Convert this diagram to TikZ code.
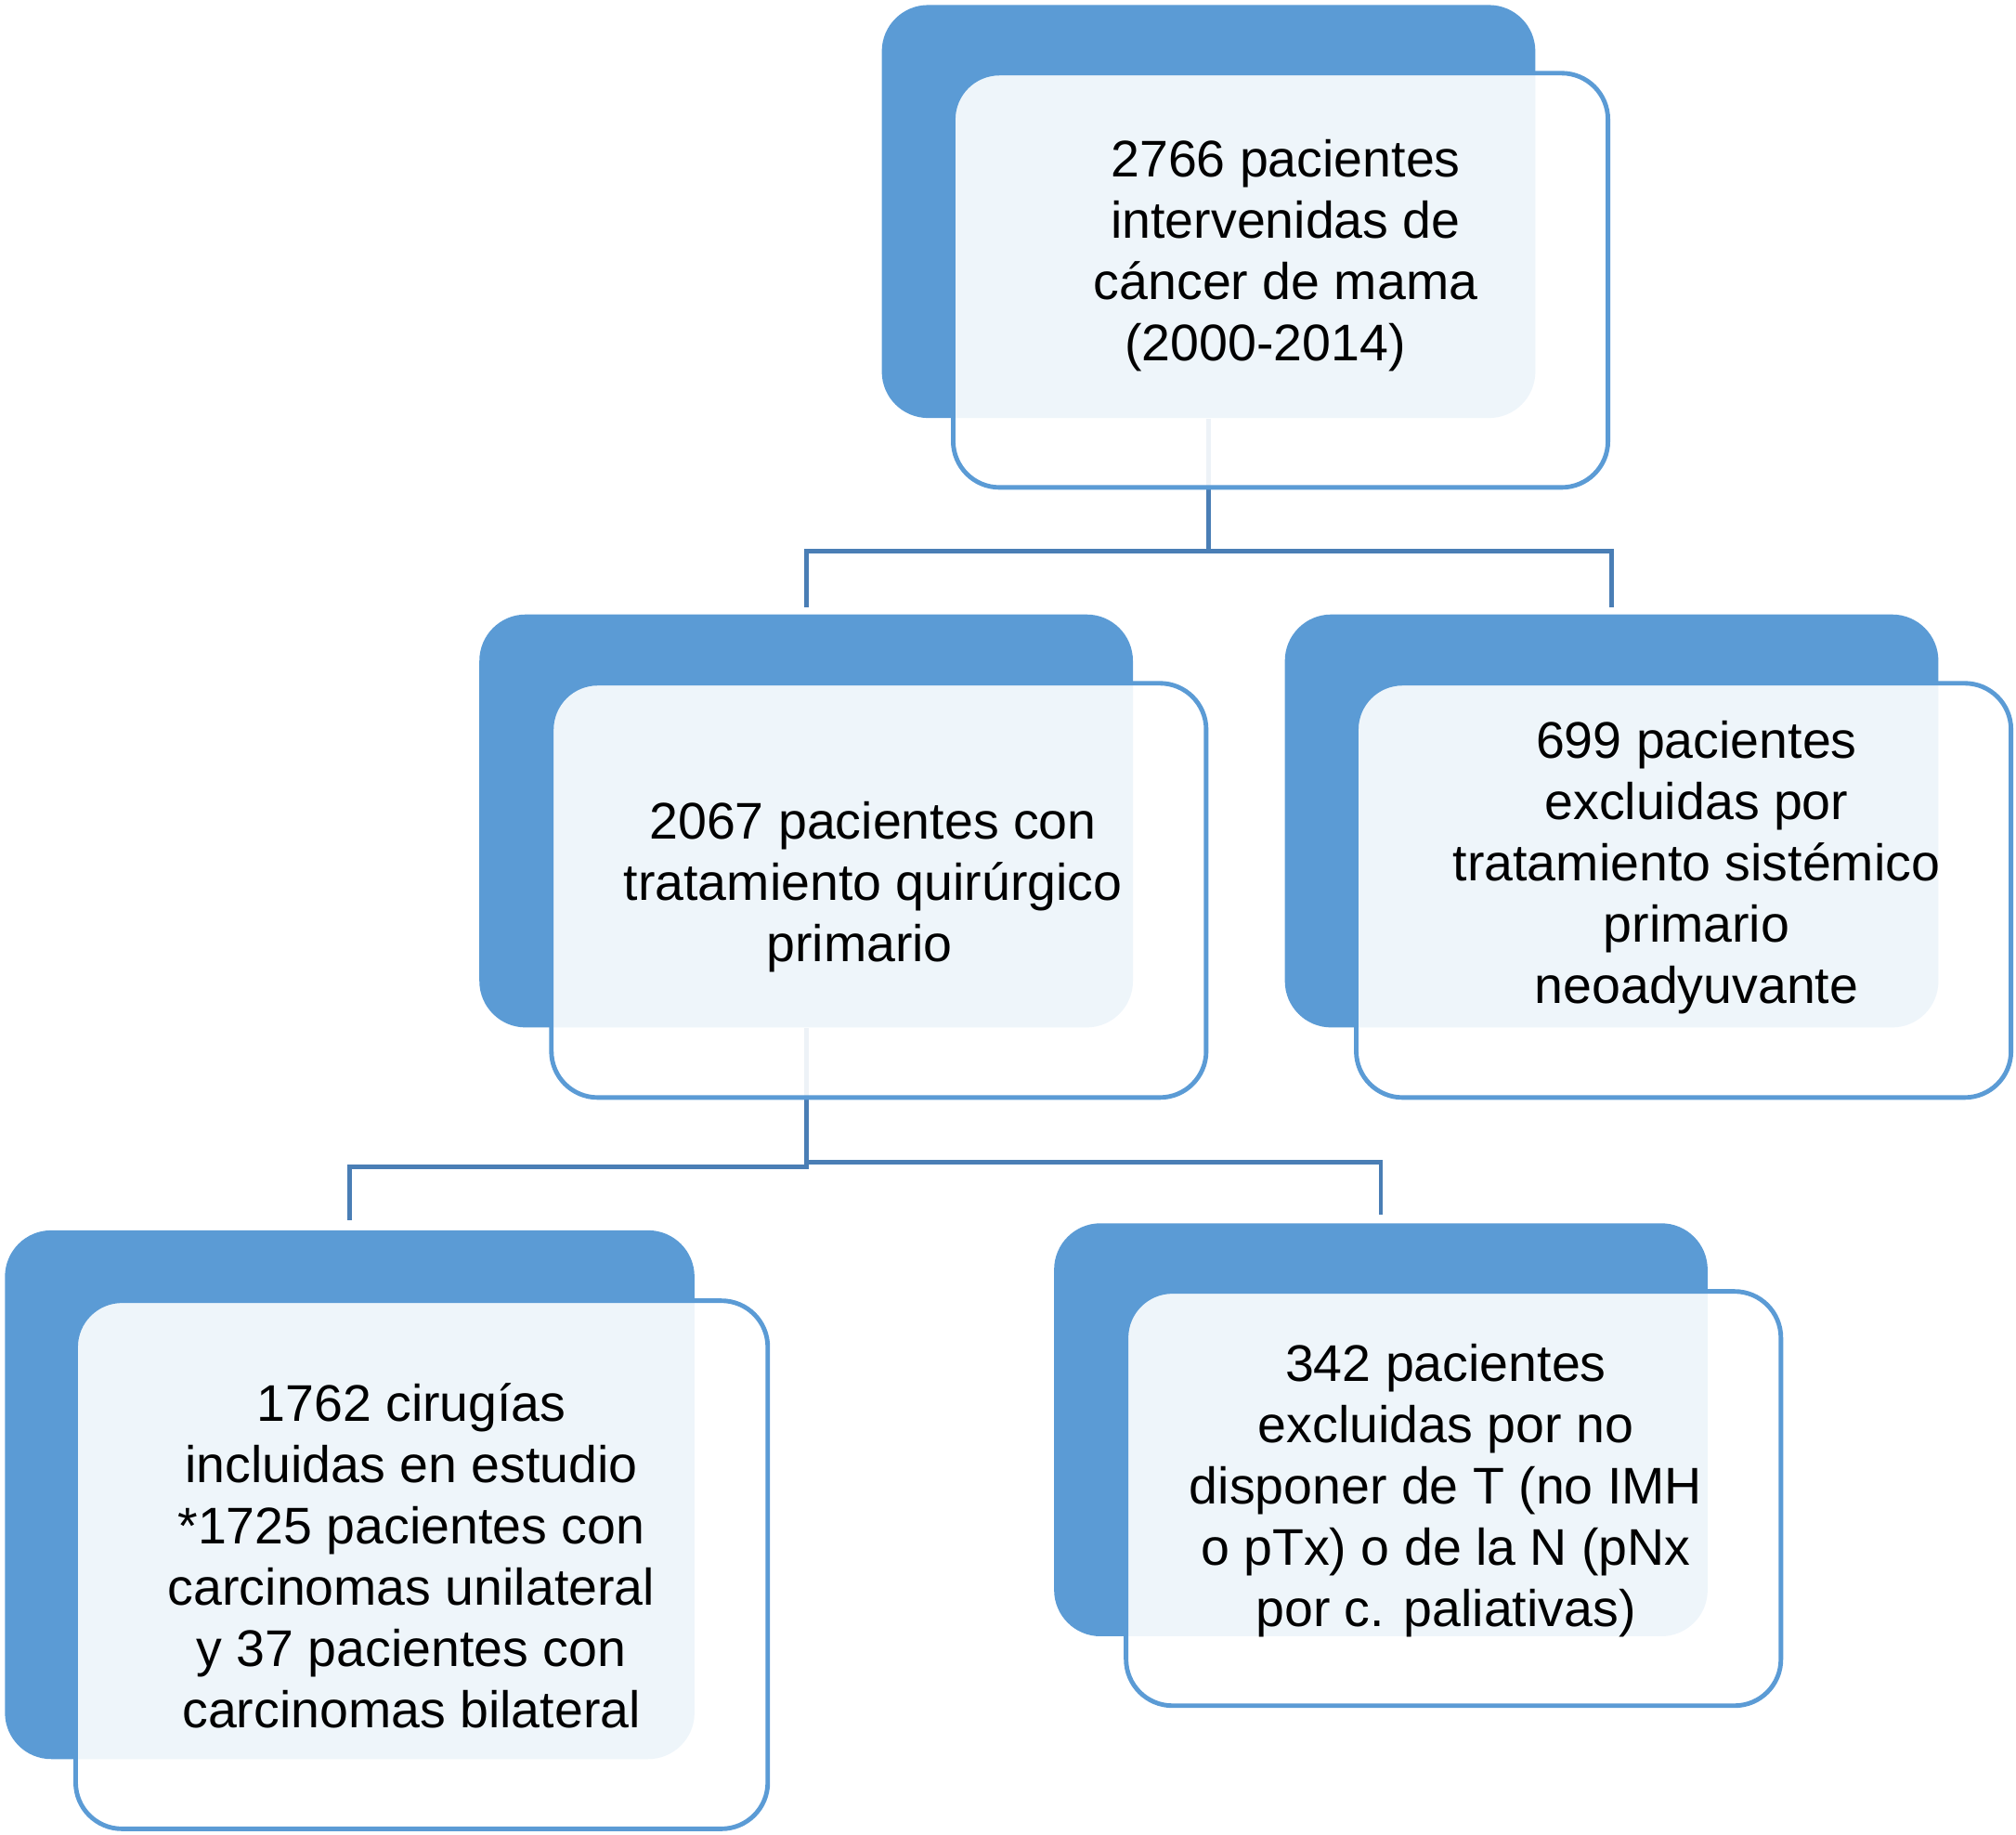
\documentclass[tikz,border=0pt]{standalone}
\usepackage{fontspec}
\setmainfont{Liberation Sans}
\definecolor{boxblue}{HTML}{5B9BD5}
\definecolor{lineblue}{HTML}{4A7EB5}
\tikzset{
  back/.style={rectangle, rounded corners=0.36cm, fill=boxblue, inner sep=0pt,
    minimum width=5.08cm, minimum height=3.21cm},
  front/.style={rectangle, rounded corners=0.36cm, draw=boxblue, line width=1pt,
    fill=white, fill opacity=0.9, draw opacity=1, inner sep=0pt,
    minimum width=5.09cm, minimum height=3.22cm},
  txt/.style={align=center, inner sep=0pt, font=\fontsize{11.4}{13.56}\selectfont},
  link/.style={draw=lineblue, line width=1pt}
}
\begin{document}
\begin{tikzpicture}[x=0.01cm,y=-0.01cm]
\useasboundingbox (0,0) rectangle (1568,1427);
% back boxes
\node[back] (topb) at (940,164.5) {};
\node[back] (midlb) at (627,638.5) {};
\node[back] (midrb) at (1253.5,638.5) {};
\node[back, minimum width=5.36cm, minimum height=4.11cm] (botlb) at (272,1162.5) {};
\node[back] (botrb) at (1074,1112) {};
% connectors
\path (topb.south) ++(0,103) coordinate (j1);
\path (midlb.south) ++(0,108) coordinate (j2l);
\path (midlb.south) ++(0,104) coordinate (j2r);
\draw[link] (topb.south) -- (j1);
\draw[link] (j1) -| ([yshift=0.05cm]midlb.north);
\draw[link] (j1) -| ([yshift=0.05cm]midrb.north);
\draw[link] (midlb.south) -- (j2l) -| ([yshift=0.07cm]botlb.north);
\draw[link] (j2r) -| ([yshift=0.06cm]botrb.north);
% front boxes
\node[front] (topf) at (996,218) {};
\node[front] (midlf) at (683.5,692.5) {};
\node[front] (midrf) at (1309.5,692.5) {};
\node[front, minimum width=5.38cm, minimum height=4.105cm] (botlf) at (328,1217) {};
\node[front] (botrf) at (1130.5,1165.5) {};
% texts
\node[txt] (topt) at (1000,199) {2766 pacientes\\intervenidas de\\cáncer de mama\\(2000-2014)\hspace*{0.32cm}};
\node[txt] (midlt) at (679,690) {2067 pacientes con\\tratamiento quirúrgico\\primario\hspace*{0.21cm}};
\node[txt] (midrt) at (1319.5,675) {699 pacientes\\excluidas por\\tratamiento sistémico\\primario\\neoadyuvante};
\node[txt] (botlt) at (320,1210) {1762 cirugías\\incluidas en estudio\\*1725 pacientes con\\carcinomas unilateral\\y 37 pacientes con\\carcinomas bilateral};
\node[txt] (botrt) at (1124.5,1159) {342 pacientes\\excluidas por no\\disponer de T (no IMH\\o pTx) o de la N (pNx\\por c. paliativas)};
\end{tikzpicture}
\end{document}
